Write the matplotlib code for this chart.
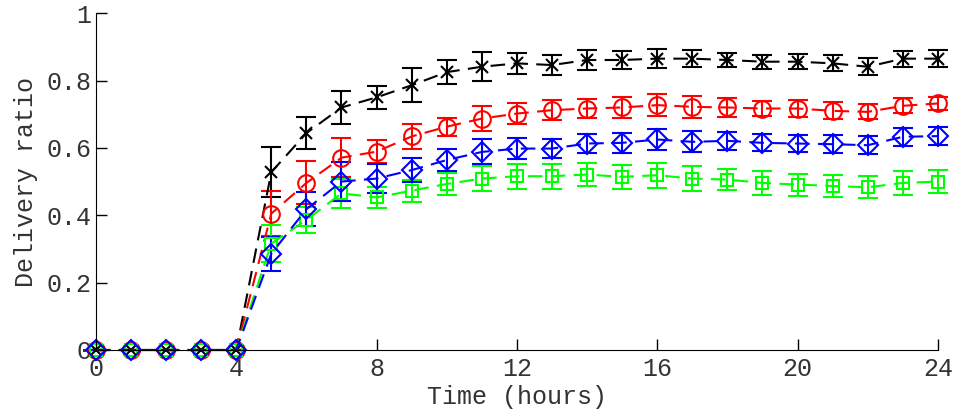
import numpy as np
import matplotlib.pyplot as plt

plt.rcParams['font.family'] = ['Liberation Mono', 'DejaVu Sans Mono']

hours = np.arange(0, 25)

# среднее значение и разброс для каждой серии
black_y = [0, 0, 0, 0, 0, 0.528, 0.644, 0.72, 0.75, 0.786, 0.825, 0.841, 0.851, 0.846, 0.861,
           0.861, 0.865, 0.865, 0.861, 0.856, 0.856, 0.851, 0.841, 0.865, 0.865]
black_e = [0, 0, 0, 0, 0, 0.074, 0.048, 0.049, 0.033, 0.05, 0.035, 0.043, 0.032, 0.03, 0.03,
           0.026, 0.028, 0.025, 0.02, 0.021, 0.022, 0.024, 0.026, 0.024, 0.026]

red_y = [0, 0, 0, 0, 0, 0.405, 0.496, 0.571, 0.589, 0.634, 0.663, 0.687, 0.702, 0.712, 0.717,
         0.72, 0.727, 0.722, 0.72, 0.717, 0.717, 0.71, 0.707, 0.725, 0.732]
red_e = [0, 0, 0, 0, 0, 0.066, 0.064, 0.057, 0.035, 0.036, 0.027, 0.038, 0.03, 0.03, 0.029,
         0.031, 0.032, 0.032, 0.027, 0.023, 0.025, 0.025, 0.022, 0.022, 0.02]

blue_y = [0, 0, 0, 0, 0, 0.286, 0.418, 0.5, 0.509, 0.534, 0.564, 0.588, 0.598, 0.598, 0.613,
          0.615, 0.625, 0.618, 0.621, 0.615, 0.613, 0.611, 0.608, 0.633, 0.635]
blue_e = [0, 0, 0, 0, 0, 0.05, 0.05, 0.058, 0.042, 0.035, 0.032, 0.037, 0.03, 0.028, 0.029,
          0.029, 0.03, 0.031, 0.027, 0.025, 0.026, 0.026, 0.027, 0.027, 0.026]

green_y = [0, 0, 0, 0, 0, 0.316, 0.386, 0.465, 0.453, 0.473, 0.493, 0.509, 0.516, 0.516, 0.521,
           0.514, 0.519, 0.509, 0.506, 0.496, 0.491, 0.487, 0.483, 0.496, 0.5]
green_e = [0, 0, 0, 0, 0, 0.055, 0.04, 0.044, 0.031, 0.033, 0.033, 0.037, 0.037, 0.037, 0.035,
           0.036, 0.037, 0.036, 0.032, 0.035, 0.033, 0.034, 0.033, 0.035, 0.035]

fig = plt.figure(figsize=(9.59, 4.12), dpi=100)
ax = fig.add_axes([0.1, 0.1505, 0.878, 0.8175])

series = [
    (black_y, black_e, 'k', 'x', 9),
    (red_y, red_e, '#ff0000', 'o', 12),
    (green_y, green_e, '#00ff00', 's', 9),
    (blue_y, blue_e, '#0000ff', 'D', 10),
]
for y, e, c, m, ms in series:
    ax.errorbar(hours, y, yerr=e, color=c, ecolor=c, marker=m, markersize=ms,
                markerfacecolor='none', markeredgewidth=1.5, linestyle=(0, (7, 4)),
                linewidth=1.5, elinewidth=1.5, capsize=7, capthick=1.5, clip_on=False)

ax.set_xlim(0, 24)
ax.set_ylim(0, 1)
ax.set_xticks(np.arange(0, 25, 4))
ax.set_yticks([0, 0.2, 0.4, 0.6, 0.8, 1])
ax.set_yticklabels(['0', '0.2', '0.4', '0.6', '0.8', '1'])
ax.spines['top'].set_visible(False)
ax.spines['right'].set_visible(False)
ax.tick_params(direction='in', length=8, width=1, labelsize=18, labelcolor='#333333', pad=3)
ax.tick_params(axis='x', pad=5)
ax.set_xlabel('Time (hours)', fontsize=18, color='#333333', labelpad=3)
ax.set_ylabel('Delivery ratio', fontsize=18, color='#333333', labelpad=6)

fig.savefig('out.png', dpi=100)
